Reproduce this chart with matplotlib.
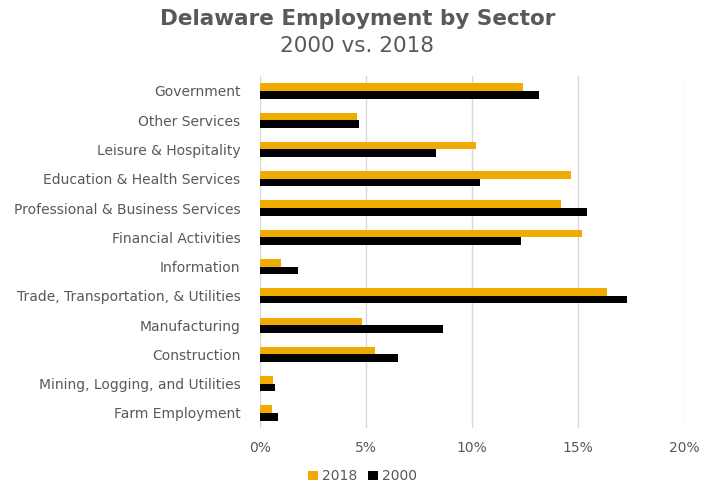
import matplotlib.pyplot as plt
import numpy as np
from matplotlib.ticker import PercentFormatter

# sectors listed bottom to top
sectors = [
    "Farm Employment",
    "Mining, Logging, and Utilities",
    "Construction",
    "Manufacturing",
    "Trade, Transportation, & Utilities",
    "Information",
    "Financial Activities",
    "Professional & Business Services",
    "Education & Health Services",
    "Leisure & Hospitality",
    "Other Services",
    "Government",
]
share_2018 = [0.57, 0.61, 5.42, 4.80, 16.38, 0.99, 15.17, 14.22, 14.68, 10.20, 4.58, 12.41]
share_2000 = [0.83, 0.72, 6.50, 8.61, 17.31, 1.78, 12.30, 15.43, 10.36, 8.28, 4.65, 13.18]

ORANGE = "#F0AB00"
TEXT = "#595959"

fig = plt.figure(figsize=(7.15, 4.87), dpi=100)
ax = fig.add_axes([0.3636, 0.122, 0.5930, 0.7213])

y = np.arange(len(sectors))
h = 0.26
ax.barh(y + h / 2, share_2018, height=h, color=ORANGE, label="2018", zorder=3)
ax.barh(y - h / 2, share_2000, height=h, color="black", label="2000", zorder=3)

ax.set_xlim(0, 20)
ax.set_ylim(-0.5, len(sectors) - 0.5)
ax.set_xticks([0, 5, 10, 15, 20])
ax.xaxis.set_major_formatter(PercentFormatter(decimals=0))
ax.set_yticks(y)
ax.set_yticklabels(sectors)
ax.grid(axis="x", color="#D9D9D9", linewidth=1.0, zorder=0)
for s in ax.spines.values():
    s.set_visible(False)
ax.tick_params(axis="both", length=0, colors=TEXT, labelsize=10)
ax.tick_params(axis="x", pad=10)
ax.tick_params(axis="y", pad=14)

fig.text(0.5, 0.962, "Delaware Employment by Sector", ha="center", va="center",
         fontsize=15.5, fontweight="bold", color=TEXT)
fig.text(0.5, 0.906, "2000 vs. 2018", ha="center", va="center",
         fontsize=15.5, color=TEXT)

ax.legend(loc="center", bbox_to_anchor=(0.507, 0.022), bbox_transform=fig.transFigure,
          ncol=2, frameon=False, fontsize=10, labelcolor=TEXT,
          handlelength=0.7, handleheight=0.7, handletextpad=0.3, columnspacing=0.8)

fig.savefig("out.png", dpi=100)
